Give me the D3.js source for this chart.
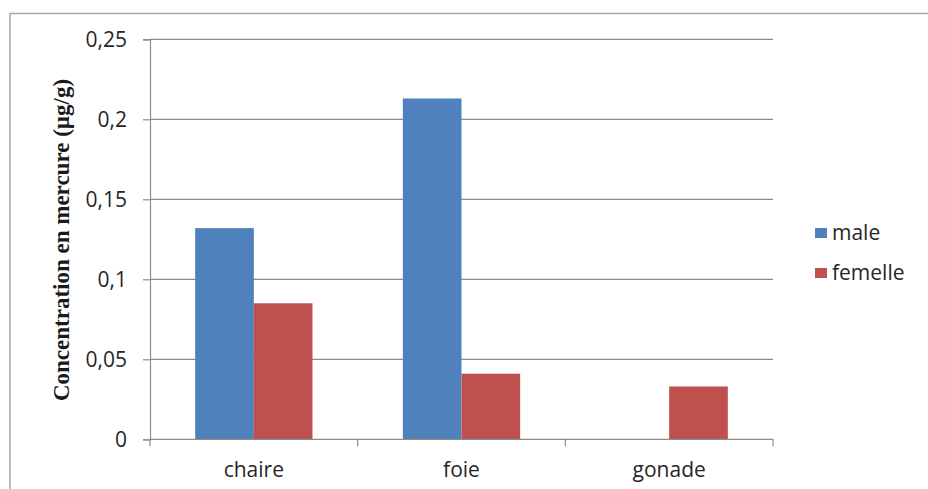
<!DOCTYPE html>
<html>
<head>
<meta charset="utf-8">
<script src="https://cdn.jsdelivr.net/npm/d3@7"></script>
<style>
  html, body { margin: 0; padding: 0; background: #fff; }
  svg { display: block; }
</style>
</head>
<body>
<svg id="chart" width="928" height="489"></svg>
<script>
const categories = ["chaire", "foie", "gonade"];
const seriesNames = ["male", "femelle"];
const maleValues = [0.132, 0.213, 0];
const femelleValues = [0.085, 0.041, 0.033];
const yTicks = [0, 0.05, 0.1, 0.15, 0.2, 0.25];
const yTickLabels = ["0", "0,05", "0,1", "0,15", "0,2", "0,25"];
const yTitle = "Concentration en mercure (µg/g)";
const colors = ["#4F81BD", "#C0504D"];

const svg = d3.select("#chart");
const W = 928, H = 489;
const plot = { left: 150, right: 773, top: 39.3, bottom: 439.3 };

// outer chart border (only top/left visible)
svg.append("rect")
  .attr("x", 10).attr("y", 13.5)
  .attr("width", W + 20).attr("height", H + 20)
  .attr("fill", "#fff")
  .attr("stroke", "#a6a6a6").attr("stroke-width", 1.5);

const x = d3.scaleBand().domain(categories).range([plot.left, plot.right]).paddingInner(0).paddingOuter(0);
const xSub = d3.scaleBand().domain(seriesNames).range([0, x.bandwidth()]).paddingInner(0).paddingOuter(0.77);
const y = d3.scaleLinear().domain([0, 0.25]).range([plot.bottom, plot.top]);

const gridColor = "#8c8c8c";
const textColor = "#262626";

// gridlines
svg.append("g").selectAll("line").data(yTicks.filter(d => d > 0)).join("line")
  .attr("x1", plot.left).attr("x2", plot.right)
  .attr("y1", d => y(d)).attr("y2", d => y(d))
  .attr("stroke", gridColor).attr("stroke-width", 1.2);

// y axis
const yAxis = d3.axisLeft(y).tickValues(yTicks).tickSize(7).tickPadding(16)
  .tickFormat((d, i) => yTickLabels[i]);
const gy = svg.append("g").attr("transform", `translate(${plot.left},0)`).call(yAxis);
gy.select(".domain").attr("stroke", gridColor).attr("stroke-width", 1.2);
gy.selectAll(".tick line").attr("stroke", gridColor).attr("stroke-width", 1.2);
gy.selectAll(".tick text")
  .attr("font-family", "'Open Sans', sans-serif").attr("font-size", 21)
  .attr("fill", textColor);

// bars
const data = categories.map((c, i) => ({ cat: c, vals: [maleValues[i], femelleValues[i]] }));
const groups = svg.append("g").selectAll("g").data(data).join("g")
  .attr("transform", d => `translate(${x(d.cat)},0)`);
groups.selectAll("rect").data(d => d.vals.map((v, j) => ({ s: seriesNames[j], v, j }))).join("rect")
  .attr("x", d => xSub(d.s))
  .attr("width", xSub.bandwidth())
  .attr("y", d => y(d.v))
  .attr("height", d => y(0) - y(d.v))
  .attr("fill", d => colors[d.j]);

// x axis
const xAxisG = svg.append("g").attr("transform", `translate(0,${plot.bottom})`);
xAxisG.append("line").attr("x1", plot.left).attr("x2", plot.right)
  .attr("stroke", gridColor).attr("stroke-width", 1.2);
const boundaries = categories.map(c => x(c)).concat([plot.right]);
xAxisG.selectAll("line.tk").data(boundaries).join("line").attr("class", "tk")
  .attr("x1", d => d).attr("x2", d => d).attr("y1", 0).attr("y2", 7)
  .attr("stroke", gridColor).attr("stroke-width", 1.2);
xAxisG.selectAll("text").data(categories).join("text")
  .attr("x", d => x(d) + x.bandwidth() / 2)
  .attr("y", 38)
  .attr("text-anchor", "middle")
  .attr("font-family", "'Open Sans', sans-serif").attr("font-size", 21)
  .attr("fill", textColor)
  .text(d => d);

// y title
svg.append("text")
  .attr("transform", `translate(69,240) rotate(-90)`)
  .attr("text-anchor", "middle")
  .attr("font-family", "'Liberation Serif', 'Times New Roman', serif")
  .attr("font-weight", "bold").attr("font-size", 23)
  .attr("fill", "#1a1a1a")
  .text(yTitle);

// legend
const legend = svg.append("g");
seriesNames.forEach((s, i) => {
  const ly = 233 + i * 40;
  legend.append("rect").attr("x", 815).attr("y", ly - 5).attr("width", 12).attr("height", 10).attr("fill", colors[i]);
  legend.append("text").attr("x", 832).attr("y", ly + 7)
    .attr("font-family", "'Open Sans', sans-serif").attr("font-size", 21)
    .attr("fill", textColor).text(s);
});
</script>
</body>
</html>
